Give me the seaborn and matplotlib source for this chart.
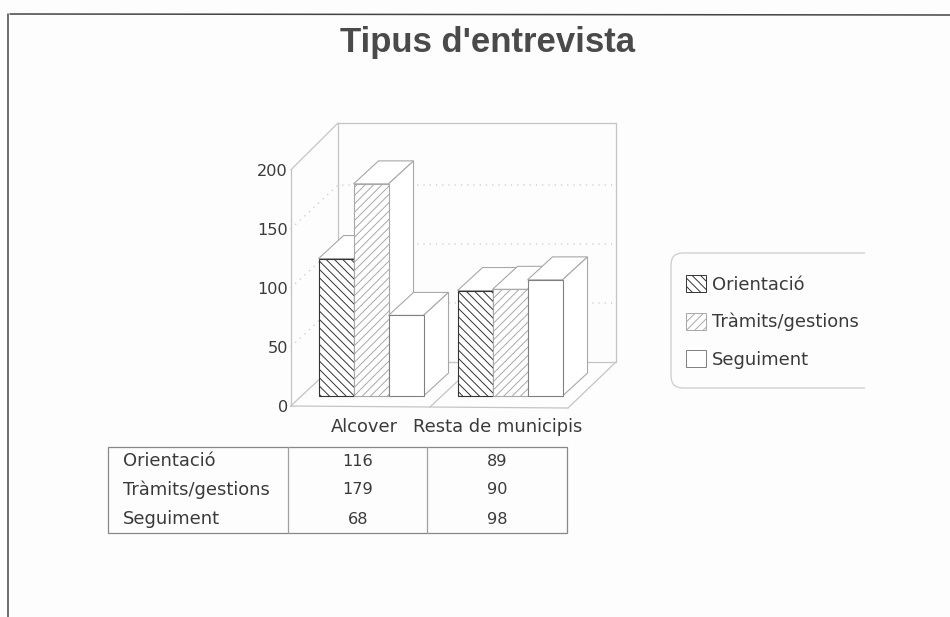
import pandas as pd
import matplotlib
matplotlib.use('Agg')
import matplotlib.pyplot as plt
import seaborn as sns
from matplotlib.patches import FancyBboxPatch, Patch, Polygon, Rectangle

categories = ['Alcover', 'Resta de municipis']
series_names = ['Orientació', 'Tràmits/gestions', 'Seguiment']
orientacio = [116, 89]
tramits = [179, 90]
seguiment = [68, 98]
y_ticks = [0, 50, 100, 150, 200]
title = "Tipus d'entrevista"

W, H = 950, 617
TEXT = '#3a3a3a'
WALL = '#c4c4c4'
FS = 12.9
FS_NUM = 11.6
hatches = ['\\' * 4, '/' * 4, '']
edges = ['#333333', '#a8a8a8', '#808080']

sns.set_theme(style='white')
plt.rcParams['font.family'] = ['DejaVu Sans']
plt.rcParams['hatch.linewidth'] = 0.7


def box(left, top, right, bottom):
    return [left / W, 1 - bottom / H, (right - left) / W, (bottom - top) / H]


df = pd.DataFrame({'cat': categories * 3,
                   'serie': [s for s in series_names for _ in categories],
                   'n': orientacio + tramits + seguiment})

fig = plt.figure(figsize=(9.5, 6.17), dpi=100, facecolor='#fdfdfd')

# overlay in pixel coords for the wall, table and page edges
deco = fig.add_axes([0, 0, 1, 1], zorder=0)
deco.set_xlim(0, W)
deco.set_ylim(H, 0)
deco.set_axis_off()

# page edges from the scan
deco.plot([10, 950], [14, 15], color='#444444', lw=1.1)
deco.plot([8, 8], [14, 617], color='#444444', lw=1.1)

# 3d walls
fx0, fx1, fy0 = 290.7, 568, 406
bx0, bx1, by0, by1 = 338, 616, 362, 123
px_unit = 1.18
for xs, ys in [([fx0, fx1], [fy0, fy0 + 2]),
               ([fx0, bx0], [fy0, by0]),
               ([fx1, bx1], [fy0 + 2, by0]),
               ([bx0, bx1], [by0, by0]),
               ([bx0, bx0], [by0, by1]),
               ([bx1, bx1], [by0, by1]),
               ([bx0, bx1], [by1, by1]),
               ([fx0, fx0], [fy0, fy0 - 200 * px_unit]),
               ([fx0, bx0], [fy0 - 200 * px_unit, by1]),
               ([430, 477], [407, 363])]:
    deco.plot(xs, ys, color=WALL, lw=0.9)
for v in y_ticks[1:-1]:
    y = fy0 - v * px_unit
    deco.plot([fx0, bx0, bx1], [y, y - 44, y - 44], color='#c9c9c9', lw=0.9, ls=(0, (1, 4)))

# category scale and y labels
wall = fig.add_axes(box(fx0, fy0 - 200 * px_unit, fx1, fy0), zorder=1)
wall.patch.set_alpha(0)
wall.set_xlim(-0.547, 1.522)
wall.set_ylim(0, 200)
wall.set_xticks([0, 1], categories)
wall.set_yticks(y_ticks)
wall.tick_params(length=0, labelcolor=TEXT)
wall.tick_params(axis='x', pad=8.5, labelsize=FS)
wall.tick_params(axis='y', pad=2, labelsize=FS_NUM)
sns.despine(ax=wall, left=True, bottom=True)

# bars
ax = fig.add_axes(box(fx0, 120, 620, 396), zorder=2)
sns.barplot(df, x='cat', y='n', hue='serie', ax=ax, palette=['white'] * 3, width=0.755,
            gap=0, saturation=1, legend=False)
ax.set_xlim(-0.578, 1.791)
ax.set_ylim(0, 276 / 1.185)
ax.set_axis_off()

dx = 25 / 139
dy = 23 / 1.185
bars = []
for k, cont in enumerate(ax.containers):
    for bar in cont:
        bar.set_hatch(hatches[k])
        bar.set_edgecolor(edges[k])
        bar.set_linewidth(0.8)
        bar.set_clip_on(False)
        bars.append(bar)
for i, bar in enumerate(sorted(bars, key=lambda b: b.get_x())):
    x0, x1, h = bar.get_x(), bar.get_x() + bar.get_width(), bar.get_height()
    z = 3 + i
    bar.set_zorder(z + 0.5)
    ax.add_patch(Polygon([(x0, h), (x0 + dx, h + dy), (x1 + dx, h + dy), (x1, h)], facecolor='white',
                         edgecolor='#a8a8a8', lw=0.8, zorder=z, clip_on=False))
    ax.add_patch(Polygon([(x1, 0), (x1 + dx, dy), (x1 + dx, h + dy), (x1, h)], facecolor='white',
                         edgecolor='#a8a8a8', lw=0.8, zorder=z, clip_on=False))

# legend, box is open on the right
frame = FancyBboxPatch((671, 253), 240, 135, boxstyle='round,pad=0,rounding_size=12',
                       facecolor='none', edgecolor='#cccccc', lw=0.9)
deco.add_patch(frame)
frame.set_clip_path(Rectangle((660, 240), 205, 160, transform=deco.transData))

handles = [Patch(facecolor='white', edgecolor=edges[k], hatch=hatches[k], lw=0.7, label=series_names[k])
           for k in range(3)]
ax.legend(handles=handles, loc='center left', bbox_to_anchor=(686 / W, 1 - 322 / H),
          bbox_transform=fig.transFigure, frameon=False, fontsize=FS, labelcolor=TEXT,
          handlelength=1.1, handleheight=1.1, handletextpad=0.35, labelspacing=1.05, borderpad=0,
          borderaxespad=0)

# table under the chart
deco.add_patch(Rectangle((107.5, 447), 459, 86, facecolor='none', edgecolor='#888888', lw=0.9))
for x in [288, 427]:
    deco.plot([x, x], [447, 533], color='#a0a0a0', lw=0.9)
rows = [orientacio, tramits, seguiment]
for name, row, y in zip(series_names, rows, [461, 490, 519]):
    deco.text(123, y, name, fontsize=FS, color=TEXT, va='center')
    deco.text(358, y, str(row[0]), fontsize=FS_NUM, color=TEXT, va='center', ha='center')
    deco.text(497, y, str(row[1]), fontsize=FS_NUM, color=TEXT, va='center', ha='center')

deco.text(487, 39, title, fontsize=25, fontweight='bold', color='#4a4a4a', ha='center', va='center_baseline',
          family='Liberation Sans')

fig.savefig('out.png', dpi=100, facecolor=fig.get_facecolor())
